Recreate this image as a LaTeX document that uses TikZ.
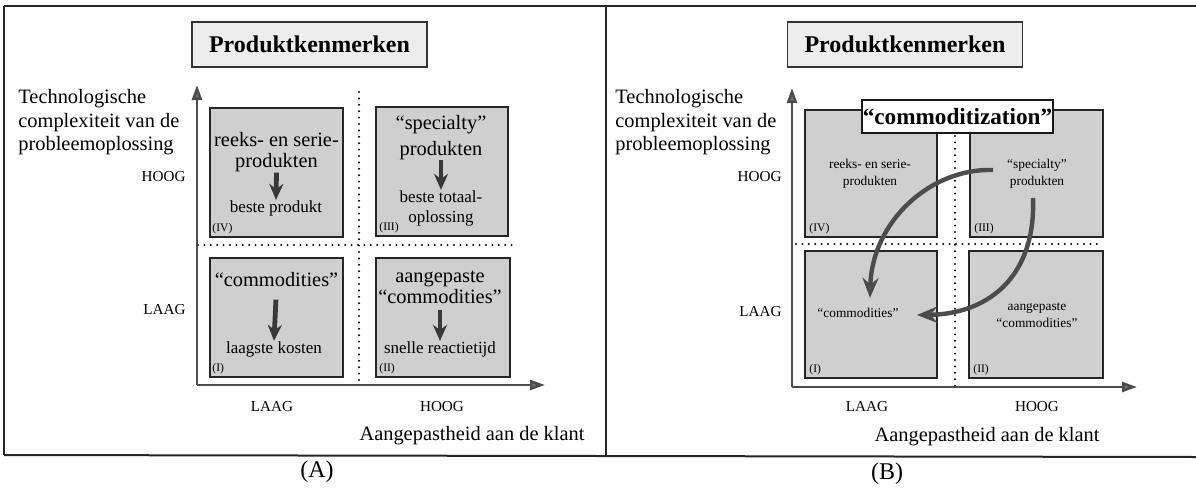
\documentclass[tikz,border=0pt]{standalone}
\usepackage{fontspec}
\setmainfont{Liberation Serif}
\usetikzlibrary{arrows.meta,calc}
\begin{document}
\begin{tikzpicture}[x=0.5pt,y=-0.5pt,
  frameline/.style={draw=black!85,line width=1pt},
  quad/.style={draw=black!85,fill=black!19,line width=0.7pt,inner sep=0pt},
  titlebox/.style={draw=black!80,fill=black!7,line width=0.6pt,inner sep=0pt,
    minimum width=117.5pt,minimum height=22.5pt,font=\fontsize{12}{14}\selectfont\bfseries},
  badge/.style={draw=black!90,fill=white,line width=0.7pt,inner sep=0pt,
    minimum width=95.5pt,minimum height=16.5pt,font=\fontsize{11.6}{13}\selectfont\bfseries},
  axisarrow/.style={draw=black!70,line width=1.3pt,-{Triangle[length=7.5pt,width=5pt,fill=black!55]}},
  sepline/.style={draw=black,line width=1.1pt,line cap=round,dash pattern=on 0pt off 3.2pt},
  axlab/.style={font=\fontsize{10.2}{11.75}\selectfont,inner sep=0pt,align=left},
  lvl/.style={font=\fontsize{7.6}{9}\selectfont,inner sep=0pt},
  bigtxt/.style={font=\fontsize{10.2}{10.5}\selectfont,inner sep=0pt,align=center},
  smtxt/.style={font=\fontsize{8.5}{10}\selectfont,inner sep=0pt,align=center},
  romanlab/.style={font=\fontsize{5.8}{6}\selectfont,inner sep=0pt,anchor=south west},
  btxt/.style={font=\fontsize{6.7}{8.5}\selectfont,inner sep=0pt,align=center},
  downarrow/.style={draw=black!78,line width=2.4pt,-{Stealth[length=8pt,width=7pt]}},
  flowarrow/.style={draw=black!70,line width=2.2pt,-{Stealth[length=10pt,width=8pt]}},
  tagtext/.style={font=\fontsize{12}{13}\selectfont,inner sep=0pt}]

\useasboundingbox (0,0) rectangle (1196,488);

% outer frame and panel divider
\draw[frameline] (4,6) -- (1196,6);
\draw[frameline] (4,6) -- (4,455);
\draw[frameline] (606,6) -- (606,457);
\draw[frameline] (4,455) -- (1196,457);

% ================= panel A =================
\node[titlebox] (aTitle) at (309.5,44.5) {Produktkenmerken};

\node[axlab,anchor=north west] (aYlab) at (18,89)
  {Technologische\\complexiteit van de\\probleemoplossing};
\node[lvl,anchor=east] (aHi) at (186,177) {HOOG};
\node[lvl,anchor=east] (aLo) at (186,310) {LAAG};

% quadrants
\node[quad,minimum width=66.5pt,minimum height=64.5pt] (aIV) at (276.5,172.5) {};
\node[quad,minimum width=66pt,minimum height=64.5pt] (aIII) at (442,171.5) {};
\node[quad,minimum width=66.5pt,minimum height=59.5pt] (aI) at (276.5,317.5) {};
\node[quad,minimum width=67pt,minimum height=59.5pt] (aII) at (443,317.5) {};

% dotted separators
\draw[sepline] (359,92) -- (359,385);
\draw[sepline] (198,245) -- (512,245);

% axes
\coordinate (aO) at (197,385);
\coordinate (aY) at (197,85);
\coordinate (aX) at (545,385);
\draw[axisarrow] (aO) -- (aY);
\draw[axisarrow] (aO) -- (aX);

\node[lvl] (aXlo) at (272,407) {LAAG};
\node[lvl] (aXhi) at (442,407) {HOOG};
\node[axlab] (aXlab) at (472,436) {Aangepastheid aan de klant};
\node[tagtext] (aTag) at (317,472) {(A)};

% quadrant IV
\node[bigtxt] (a4t) at (276.5,152.5) {reeks- en serie-\\produkten};
\node[smtxt] (a4b) at (276,208) {beste produkt};
\draw[downarrow] (a4t.south) -- (a4b.north);
\node[romanlab] (a4n) at (212,234) {(IV)};

% quadrant III
\node[bigtxt,font=\fontsize{10.2}{13}\selectfont] (a3t) at (441,137.5) {“specialty”\\produkten};
\node[smtxt] (a3b) at (441,208) {beste totaal-\\oplossing};
\draw[downarrow] (a3t.south) -- (a3b.north);
\node[romanlab] (a3n) at (379,233) {(III)};

% quadrant I
\node[bigtxt] (a1t) at (276.5,280) {“commodities”};
\node[smtxt] (a1b) at (274,349) {laagste kosten};
\draw[downarrow,shorten <=6pt] (a1t.south) -- (a1b.north);
\node[romanlab] (a1n) at (212,374) {(I)};

% quadrant II
\node[bigtxt] (a2t) at (440,287) {aangepaste\\“commodities”};
\node[smtxt] (a2b) at (440,349) {snelle reactietijd};
\draw[downarrow,shorten <=3pt] (a2t.south) -- (a2b.north);
\node[romanlab] (a2n) at (379,374) {(II)};

% ================= panel B =================
\node[titlebox] (bTitle) at (905,44.5) {Produktkenmerken};

\node[axlab,anchor=north west] (bYlab) at (615,89)
  {Technologische\\complexiteit van de\\probleemoplossing};
\node[lvl,anchor=east] (bHi) at (782,177) {HOOG};
\node[lvl,anchor=east] (bLo) at (782,312) {LAAG};

\node[quad,minimum width=66pt,minimum height=63.5pt] (bIV) at (871,173.5) {};
\node[quad,minimum width=66.5pt,minimum height=63.5pt] (bIII) at (1036.5,173.5) {};
\node[quad,minimum width=66pt,minimum height=63.5pt] (bI) at (871,314.5) {};
\node[quad,minimum width=67pt,minimum height=63.5pt] (bII) at (1036,314.5) {};

\draw[sepline] (955,136) -- (955,387);
\draw[sepline] (796,244) -- (1102,244);

\coordinate (bO) at (792,387);
\coordinate (bY) at (792,88);
\coordinate (bX) at (1137,387);
\draw[axisarrow] (bO) -- (bY);
\draw[axisarrow] (bO) -- (bX);

\node[badge] (bBadge) at (957.5,116.5) {“commoditization”};

\node[lvl] (bXlo) at (867,407) {LAAG};
\node[lvl] (bXhi) at (1037,407) {HOOG};
\node[axlab] (bXlab) at (987,437) {Aangepastheid aan de klant};
\node[tagtext] (bTag) at (887,474) {(B)};

\node[btxt] (b4t) at (870,173.5) {reeks- en serie-\\produkten};
\node[romanlab] (b4n) at (809,234) {(IV)};
\node[btxt] (b3t) at (1037,173.5) {“specialty”\\produkten};
\node[romanlab] (b3n) at (974,234) {(III)};
\node[btxt] (b1t) at (858,313) {“commodities”};
\node[romanlab] (b1n) at (809,375) {(I)};
\node[btxt] (b2t) at (1037,315.5) {aangepaste\\“commodities”};
\node[romanlab] (b2n) at (973,375) {(II)};

% commoditization flows towards quadrant I
\coordinate (c1s) at (993,170);
\coordinate (c2s) at (1033,198);
\draw[flowarrow] (c1s) .. controls (930,168) and (872,222) .. ($(b1t.north)+(12,-10)$);
\draw[flowarrow] (c2s) .. controls (1036,275) and (990,314) .. ($(b1t.east)+(18,2)$);

\end{tikzpicture}
\end{document}
